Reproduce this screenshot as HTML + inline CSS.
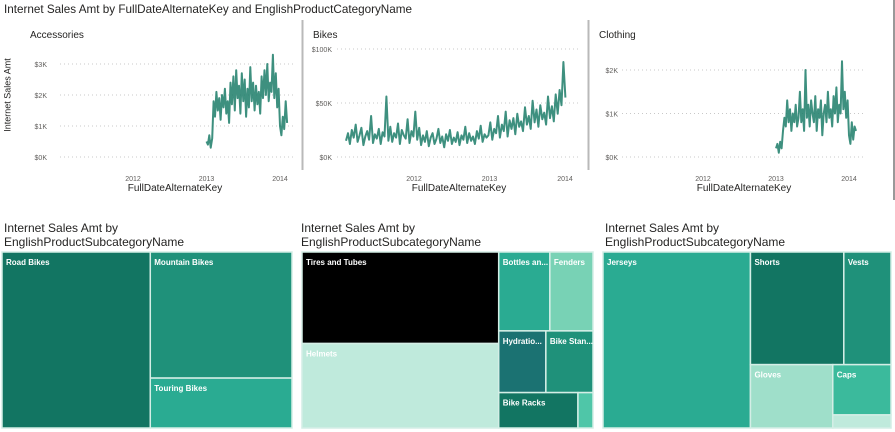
<!DOCTYPE html>
<html><head><meta charset="utf-8">
<style>
html,body{margin:0;padding:0;background:#fff;width:895px;height:432px;overflow:hidden}
svg{display:block;font-family:"Liberation Sans",sans-serif}
</style></head>
<body>
<svg id="s" width="895" height="432" viewBox="0 0 895 432">
<text x="4" y="13" font-size="11.7" fill="#252423">Internet Sales Amt by FullDateAlternateKey and EnglishProductCategoryName</text>
<line x1="302.5" y1="20" x2="302.5" y2="170" stroke="#b9b9b9" stroke-width="2"/>
<line x1="588.5" y1="20" x2="588.5" y2="170" stroke="#b9b9b9" stroke-width="2"/>
<line x1="894" y1="0" x2="894" y2="200" stroke="#333" stroke-width="1"/>
<text x="8" y="95" font-size="9" fill="#252423" transform="rotate(-90 8 95)" text-anchor="middle" dominant-baseline="middle">Internet Sales Amt</text>
<text font-size="12" fill="#252423"><tspan x="301" y="232">Internet Sales Amt by</tspan><tspan x="301" y="246">EnglishProductSubcategoryName</tspan></text>
<text font-size="12" fill="#252423"><tspan x="4" y="232">Internet Sales Amt by</tspan><tspan x="4" y="246">EnglishProductSubcategoryName</tspan></text>
<text font-size="12" fill="#252423"><tspan x="605" y="232">Internet Sales Amt by</tspan><tspan x="605" y="246">EnglishProductSubcategoryName</tspan></text>
<g id="g"></g>
</svg>
<script>
// ---- line chart data (values in $K) ----
const accStart = 2013.0, accStep = 1/52;
const accValues = [0.5,0.4,0.7,0.3,0.6,1.8,1.3,2.1,1.5,1.9,1.2,2.0,1.6,2.2,1.4,1.8,1.1,2.4,1.7,2.6,1.5,2.8,1.9,2.3,1.4,2.7,1.8,2.5,1.3,2.2,1.6,2.9,1.8,2.4,1.5,2.3,1.7,2.1,1.4,2.6,1.9,2.8,2.0,3.0,1.8,2.4,2.1,3.3,1.9,2.7,1.6,2.2,1.0,0.7,1.3,0.9,1.8,1.1];
const bikeStart = 2011.1, bikeStep = 9.3/365;
const bikeValues = [15,22,12,25,18,30,14,20,27,11,19,24,16,38,13,21,17,26,12,23,19,56,15,28,14,22,18,31,12,25,20,17,35,13,24,19,42,
16,27,11,20,14,24,10,18,22,12,17,26,13,19,9,21,15,25,12,18,14,23,11,20,16,28,13,22,15,19,12,24,17,29,14,21,18,
20,32,16,26,22,38,18,30,24,42,19,34,26,36,21,40,28,33,24,46,30,38,26,52,32,44,28,48,35,41,30,56,36,47,33,58,40,
62,48,88,55];
const cloStart = 2013.0, cloStep = 1/52;
const cloValues = [0.2,0.3,0.1,0.35,0.2,0.6,0.9,0.7,1.3,0.8,1.1,0.6,1.0,0.8,1.2,0.7,0.9,1.5,0.8,1.1,0.6,2.0,0.9,1.2,0.7,1.3,1.0,0.8,1.4,0.6,1.1,0.9,1.3,0.5,1.0,1.2,0.8,1.5,0.9,1.1,0.7,1.4,1.0,1.6,0.8,1.2,1.0,2.2,1.1,1.5,0.9,1.3,0.5,0.3,0.8,0.4,0.7,0.6];
const accTicks = [0,1,2,3], accTickLabels = ["$0K","$1K","$2K","$3K"];
const bikeTicks = [0,50,100], bikeTickLabels = ["$0K","$50K","$100K"];
const cloTicks = [0,1,2], cloTickLabels = ["$0K","$1K","$2K"];
const yearTicks = [2012,2013,2014];

// ---- treemap data ----
const bikeCats = ["Road Bikes","Mountain Bikes","Touring Bikes"];
const bikeSub = [26000,17800,7050];
const accCats = ["Tires and Tubes","Helmets","Bottles an...","Fenders","Hydratio...","Bike Stan...","Bike Racks",""];
const accSub = [17745,16380,3978,3354,2867,2867,2765,525];
const cloCats = ["Jerseys","Shorts","Vests","Gloves","Caps",""];
const cloSub = [25700,10416,5264,5166,2900,754];

const NS="http://www.w3.org/2000/svg";
const G=document.getElementById('g');
function el(t,a,p){const e=document.createElementNS(NS,t);for(const k in a)e.setAttribute(k,a[k]);(p||G).appendChild(e);return e;}

function lineChart(cfg){
  const xs=y=>cfg.x0+(y-2012)*cfg.ppy;
  const ys=v=>cfg.y0-(v/cfg.vmax)*(cfg.y0-cfg.ytop);
  const g=el('g',{});
  
  
  const st=el('text',{x:cfg.titleX,y:38,'font-size':10,fill:'#252423'},g);st.textContent=cfg.title;
  
  
  cfg.ticks.forEach((t,i)=>{
    const l=el('line',{x1:cfg.gx1,x2:cfg.gx2,y1:ys(t),y2:ys(t),stroke:'#c8c8c8','stroke-dasharray':'1,3'},g);
    
    
    const tx=el('text',{x:cfg.lx,y:ys(t)+3,'font-size':7,fill:'#605e5c','text-anchor':'end'},g);
    tx.textContent=cfg.tickLabels[i];
    
    
  });
  yearTicks.forEach(yr=>{
    const tx=el('text',{x:xs(yr),y:181,'font-size':7,fill:'#605e5c','text-anchor':'middle'},g);
    tx.textContent=String(yr);
    
    
  });
  const at=el('text',{x:cfg.axisX,y:191,'font-size':10,fill:'#252423','text-anchor':'middle'},g);
  at.textContent='FullDateAlternateKey';
  
  
  const d=cfg.values.map((v,i)=>(i?'L':'M')+xs(cfg.start+i*cfg.step).toFixed(1)+' '+ys(v).toFixed(1)).join(' ');
  const p=el('path',{d:d,fill:'none',stroke:'#1c7d68','stroke-width':2,'stroke-opacity':0.85,'stroke-linejoin':'round'},g);
  
  
}
lineChart({name:'accessories-chart',title:'Accessories',titleX:30,x0:133,ppy:73.5,y0:157,ytop:64,vmax:3,ticks:accTicks,tickLabels:accTickLabels,gx1:60,gx2:296,lx:47,axisX:175,values:accValues,start:accStart,step:accStep});
lineChart({name:'bikes-chart',title:'Bikes',titleX:313,x0:414,ppy:75.5,y0:157,ytop:49,vmax:100,ticks:bikeTicks,tickLabels:bikeTickLabels,gx1:337,gx2:580,lx:332,axisX:459,values:bikeValues,start:bikeStart,step:bikeStep});
lineChart({name:'clothing-chart',title:'Clothing',titleX:599,x0:703,ppy:73,y0:157,ytop:70,vmax:2,ticks:cloTicks,tickLabels:cloTickLabels,gx1:622,gx2:865,lx:618,axisX:744,values:cloValues,start:cloStart,step:cloStep});

function sumNode(n,vals){return typeof n==='number'?vals[n]:n.c.reduce((s,c)=>s+sumNode(c,vals),0);}
function layout(n,r,vals,out){
  if(typeof n==='number'){out.push([n,r]);return;}
  const tot=sumNode(n,vals);let off=0;
  n.c.forEach(c=>{const f=sumNode(c,vals)/tot;
    if(n.d==='h'){const w=r.w*f;layout(c,{x:r.x+off,y:r.y,w:w,h:r.h},vals,out);off+=w;}
    else{const h=r.h*f;layout(c,{x:r.x,y:r.y+off,w:r.w,h:h},vals,out);off+=h;}
  });
}
function treemap(name,rect,spec,vals,cats,colors){
  const g=el('g',{});
  
  
  const out=[];layout(spec,rect,vals,out);
  out.forEach(([i,r])=>{
    const rc=el('rect',{x:r.x,y:r.y,width:Math.max(0,r.w),height:Math.max(0,r.h),fill:colors[i],stroke:'#d4eee6','stroke-width':1.5},g);
    
    
    if(cats[i]){
      const t=el('text',{x:r.x+4,y:r.y+13,'font-size':8,'font-weight':'bold',fill:'#fff'},g);
      t.textContent=cats[i];
      
      
    }
  });
}
treemap('bikes-treemap',{x:2,y:252,w:290,h:176},{d:'h',c:[0,{d:'v',c:[1,2]}]},bikeSub,bikeCats,['#127562','#1f917a','#2aab92']);
treemap('accessories-treemap',{x:302,y:252,w:291,h:176},{d:'h',c:[{d:'v',c:[0,1]},{d:'v',c:[{d:'h',c:[2,3]},{d:'h',c:[4,5]},{d:'h',c:[6,7]}]}]},accSub,accCats,['#000000','#bfeadc','#2aab92','#78d2b5','#1b7272','#1f917a','#127562','#4fc6a8']);
treemap('clothing-treemap',{x:603,y:252,w:288,h:176},{d:'h',c:[0,{d:'v',c:[{d:'h',c:[1,2]},{d:'h',c:[3,{d:'v',c:[4,5]}]}]}]},cloSub,cloCats,['#2aab92','#127562','#1f917a','#9fdfca','#3bba9c','#bfeadc']);
</script>
</body></html>
